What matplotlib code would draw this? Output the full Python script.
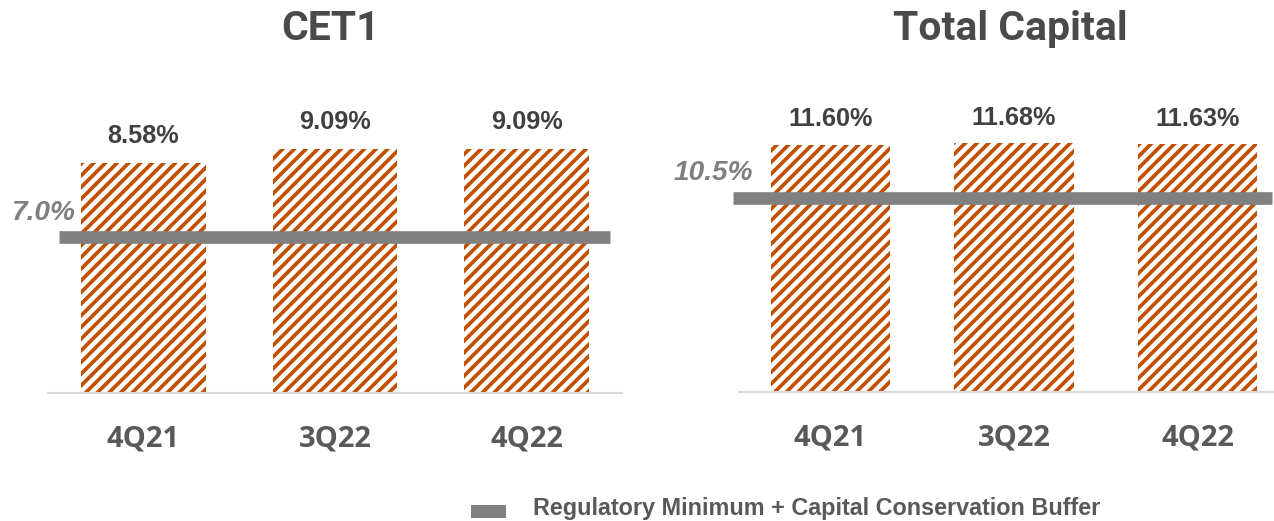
import matplotlib
matplotlib.use("Agg")
import matplotlib.pyplot as plt
from matplotlib.patches import Rectangle

# ---- data ----
categories = ["4Q21", "3Q22", "4Q22"]
cet1_values = [8.58, 9.09, 9.09]
total_capital_values = [11.60, 11.68, 11.63]
cet1_min = 7.0
total_capital_min = 10.5
titles = ["CET1", "Total Capital"]
legend_label = "Regulatory Minimum + Capital Conservation Buffer"

# ---- style ----
W, H, DPI = 1274, 521, 140
HATCH_COLOR = "#C24E00"
LINE_COLOR = "#808080"
plt.rcParams["hatch.linewidth"] = 1.9

fig = plt.figure(figsize=(W / DPI, H / DPI), dpi=DPI)

def px_to_fig(x, y):
    return x / W, 1 - y / H

def make_panel(left_px, width_px, base_px, height_px, ymax, values, reg, reg_ymax,
               line_x, label_px, value_gap_px, title, title_x):
    ax = fig.add_axes([left_px / W, 1 - base_px / H, width_px / W, height_px / H])
    x = list(range(len(categories)))
    ax.bar(x, values, width=0.65, facecolor="white", edgecolor=HATCH_COLOR,
           hatch="////", linewidth=0, zorder=2)
    ax.set_xlim(-0.5, 2.5)
    ax.set_ylim(0, ymax)
    for s in ["left", "right", "top"]:
        ax.spines[s].set_visible(False)
    ax.spines["bottom"].set_color("#d9d9d9")
    ax.spines["bottom"].set_linewidth(1.1)
    ax.set_yticks([])
    ax.set_xticks(x)
    ax.set_xticklabels(categories, fontfamily="Open Sans", fontweight="bold",
                       fontsize=15, color="#595959")
    ax.tick_params(axis="x", length=0, pad=16)
    for xi, v in zip(x, values):
        ax.annotate(f"{v:.2f}%", xy=(xi, v), xytext=(0, value_gap_px * 72 / DPI),
                    textcoords="offset points", ha="center", va="baseline",
                    fontfamily="Liberation Sans", fontweight="bold",
                    fontsize=13, color="#404040")
    # regulatory line on a twin scale
    tw = ax.twinx()
    tw.set_ylim(0, reg_ymax)
    tw.set_yticks([])
    for s in tw.spines.values():
        s.set_visible(False)
    x0 = (line_x[0] - left_px) / width_px
    x1 = (line_x[1] - left_px) / width_px
    tw.axhline(reg, xmin=x0, xmax=x1, color=LINE_COLOR, linewidth=6.5,
               solid_capstyle="butt", clip_on=False, zorder=3)
    fx, fy = px_to_fig(*label_px)
    fig.text(fx, fy, f"{reg:.1f}%", ha="right", va="baseline",
             fontfamily="Liberation Sans", fontweight="bold", fontstyle="italic",
             fontsize=14.4, color="#7f7f7f")
    tx, ty = px_to_fig(title_x, 40)
    fig.text(tx, ty, title, ha="center", va="baseline", fontfamily="Roboto",
             fontweight="bold", fontsize=21, color="#4a4a4a")
    return ax

make_panel(47.75, 574.5, 393, 268, 10, cet1_values, cet1_min, 12.0,
           (59, 610), (75, 220), 20, titles[0], 331)
make_panel(738.75, 550.5, 392, 266.25, 12.5, total_capital_values, total_capital_min,
           266.25 * total_capital_min / 193.5, (733, 1272), (753, 180), 18.5,
           titles[1], 1010)

# legend
rx, ry = px_to_fig(471, 518)
fig.patches.append(Rectangle((rx, ry), 35 / W, 13 / H, transform=fig.transFigure,
                             facecolor=LINE_COLOR, edgecolor="none"))
lx, ly = px_to_fig(533, 515)
fig.text(lx, ly, legend_label, ha="left", va="baseline", fontfamily="Liberation Sans",
         fontweight="bold", fontsize=12, color="#595959")

fig.savefig("out.png", dpi=DPI)
